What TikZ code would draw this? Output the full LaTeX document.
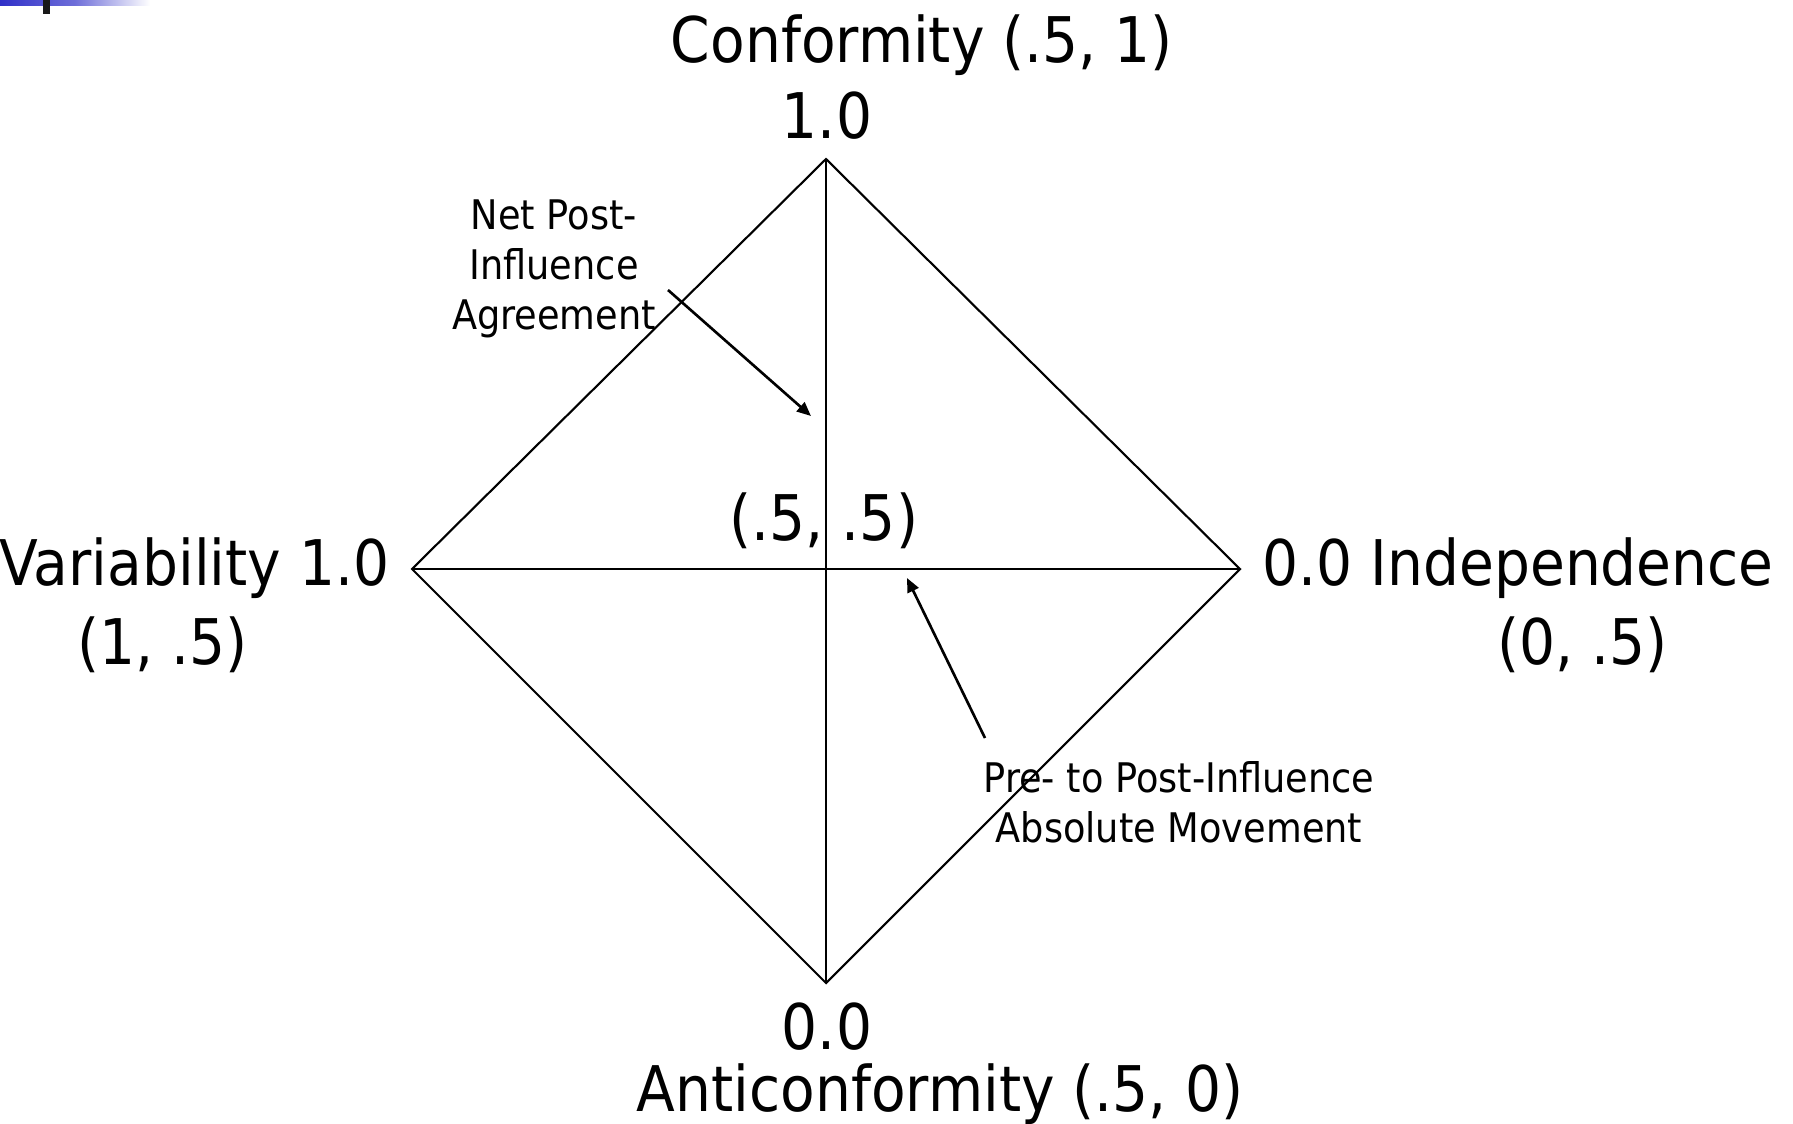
\documentclass[tikz,border=0pt]{standalone}
\usepackage{fontspec}
\setmainfont{DejaVu Sans}[FakeStretch=0.9]
\usepackage{xcolor}
\definecolor{slideblue}{HTML}{3030C8}
\usepackage{tikz}
\usetikzlibrary{arrows.meta, positioning, calc}

\begin{document}
\begin{tikzpicture}[
  x=0.01cm, y=-0.01cm,
  axis/.style={draw=black, line width=0.6pt},
  pointer/.style={draw=black, line width=0.75pt,
    -{Triangle[length=4pt, width=3.4pt]}},
  biglabel/.style={inner sep=0pt, font=\fontsize{17.9}{21}\selectfont},
  notelabel/.style={inner sep=0pt, align=center,
    font=\fontsize{11.6}{14.2}\selectfont},
]
  \useasboundingbox (0,0) rectangle (1793,1124);

  % Slide corner
  \shade[left color=slideblue, right color=white, middle color=slideblue!70]
    (0,0) rectangle (150,5);
  \fill[black!90] (43,0) rectangle (50,14);

  % Diamond corners
  \coordinate (top) at (826,159);
  \coordinate (bottom) at (826,983);
  \coordinate (left) at (412,569);
  \coordinate (right) at (1240,569);
  \coordinate (mid) at (826,569);

  % Diamond
  \draw[axis] (top) -- (right) -- (bottom) -- (left) -- cycle;
  \draw[axis] (top) -- (bottom);
  \draw[axis] (left) -- (right);

  % Pole labels
  \node[biglabel, anchor=base] (conf) at (922,62) {Conformity (.5, 1)};
  \node[biglabel, anchor=base] (confval) at (827,138) {1.0};
  \node[biglabel, anchor=base east] (vari) at (390,585) {Variability 1.0};
  \node[biglabel, anchor=base] (vaript) at (163,664) {(1, .5)};
  \node[biglabel, anchor=base west] (indep) at (1262,585) {0.0 Independence};
  \node[biglabel, anchor=base] (indeppt) at (1583,664) {(0, .5)};
  \node[biglabel, anchor=base] (centre) at (824,540) {(.5, .5)};
  \node[biglabel, anchor=base] (antival) at (827,1049) {0.0};
  \node[biglabel, anchor=base] (anti) at (940,1111) {Anticonformity (.5, 0)};

  % Notes
  \node[notelabel, anchor=base] (agree) at (554,329)
    {Net Post-\\Influence\\Agreement};
  \node[notelabel, anchor=base] (move) at (1179,842)
    {Pre- to Post-Influence\\Absolute Movement};

  % Pointers
  \coordinate (agreefrom) at (668,290);
  \coordinate (agreeto) at (811,416);
  \coordinate (movefrom) at (985,738);
  \coordinate (moveto) at (907,578);
  \draw[pointer] (agreefrom) -- (agreeto);
  \draw[pointer] (movefrom) -- (moveto);
\end{tikzpicture}
\end{document}
